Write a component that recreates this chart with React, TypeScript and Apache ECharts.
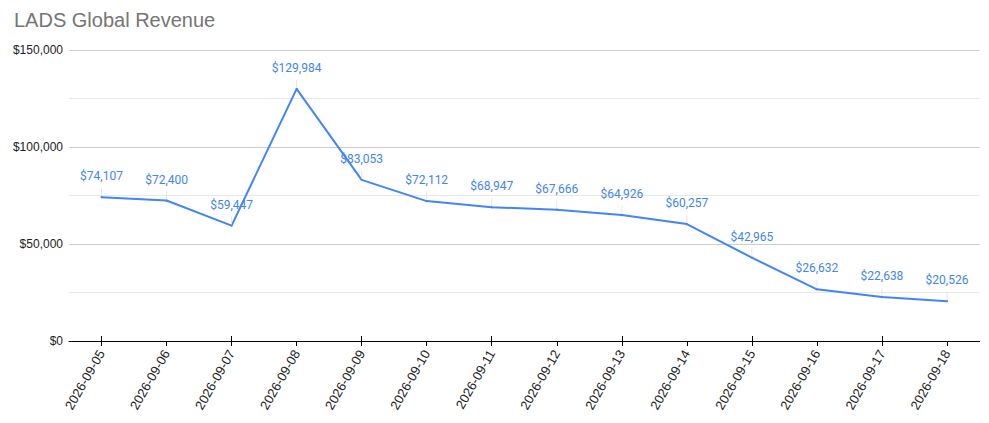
import { useEffect, useRef } from "react";
import * as echarts from "echarts";

const dates = [
  "2026-09-05", "2026-09-06", "2026-09-07", "2026-09-08", "2026-09-09",
  "2026-09-10", "2026-09-11", "2026-09-12", "2026-09-13", "2026-09-14",
  "2026-09-15", "2026-09-16", "2026-09-17", "2026-09-18",
];
const revenue = [
  74107, 72400, 59447, 129984, 83053, 72112, 68947,
  67666, 64926, 60257, 42965, 26632, 22638, 20526,
];

const money = (v: number) => "$" + v.toLocaleString("en-US");

export default function App() {
  const chartRef = useRef<HTMLDivElement>(null);

  useEffect(() => {
    if (!chartRef.current) return;
    const chart = echarts.init(chartRef.current, null, { renderer: "svg" });
    chart.setOption({
      animation: false,
      title: {
        text: "LADS Global Revenue",
        left: 9,
        top: 5,
        textStyle: { color: "#757575", fontSize: 20, fontWeight: "normal", fontFamily: "Liberation Sans, Arial" },
      },
      grid: { left: 69, right: 9.5, top: 50, bottom: 82 },
      xAxis: [
        {
          type: "category",
          data: dates,
          position: "bottom",
          axisLine: { show: true, lineStyle: { color: "#000", width: 1 } },
          axisTick: { show: true, alignWithLabel: true, length: 5, lineStyle: { color: "#000" } },
          axisLabel: {
            rotate: 60,
            color: "#222",
            fontSize: 13,
            fontFamily: "Liberation Sans, Arial",
            margin: 10,
          },
        },
        {
          type: "category",
          data: dates,
          position: "bottom",
          axisLine: { show: false },
          axisTick: { show: true, alignWithLabel: true, inside: true, length: 5, lineStyle: { color: "#000" } },
          axisLabel: { show: false },
          splitLine: { show: false },
        },
      ],
      yAxis: {
        type: "value",
        min: 0,
        max: 150000,
        interval: 50000,
        axisLine: { show: false },
        axisTick: { show: false },
        axisLabel: {
          color: "#222",
          fontSize: 12,
          fontFamily: "Liberation Sans, Arial",
          margin: 6,
          formatter: (v: number) => money(v),
        },
        splitLine: { lineStyle: { color: "#cccccc" } },
        minorTick: { show: false, splitNumber: 2 },
        minorSplitLine: { show: true, lineStyle: { color: "#e8e8e8" } },
      },
      series: [
        {
          type: "line",
          xAxisIndex: 0,
          data: revenue,
          symbol: "circle",
          symbolSize: 2,
          showSymbol: true,
          lineStyle: { color: "#4285F4", width: 2 },
          itemStyle: { color: "#4285F4" },
          label: {
            show: true,
            position: "top",
            distance: 14,
            color: "#4285F4",
            fontSize: 12,
            fontFamily: "Roboto",
            formatter: (p: any) => money(p.value),
          },
          labelLine: { show: true, lineStyle: { color: "#e6e6e6", width: 1 } },
        },
      ],
    });
    return () => chart.dispose();
  }, []);

  return <div ref={chartRef} style={{ width: 989, height: 423, margin: -8 }} />;
}
